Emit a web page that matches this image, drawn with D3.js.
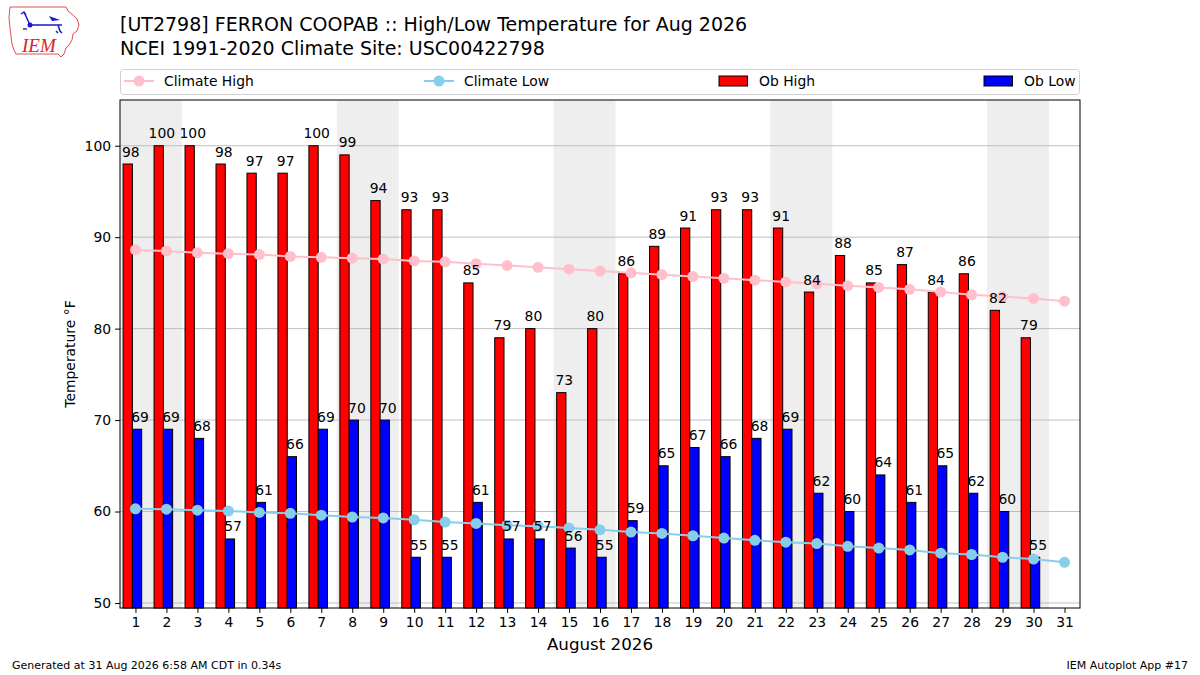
<!DOCTYPE html>
<html>
<head>
<meta charset="utf-8">
<script src="https://cdn.jsdelivr.net/npm/d3@7"></script>
<style>
  body { margin: 0; background: #fff; }
  svg { font-family: "DejaVu Sans", sans-serif; }
</style>
</head>
<body>
<svg id="chart" width="1200" height="675"></svg>
<script>
const days = d3.range(1, 32);
const obDays = d3.range(1, 31);
const obHigh = [98, 100, 100, 98, 97, 97, 100, 99, 94, 93, 93, 85, 79, 80, 73,
  80, 86, 89, 91, 93, 93, 91, 84, 88, 85, 87, 84, 86, 82, 79];
const obLow = [69, 69, 68, 57, 61, 66, 69, 70, 70, 55, 55, 61, 57, 57, 56,
  55, 59, 65, 67, 66, 68, 69, 62, 60, 64, 61, 65, 62, 60, 55];
const climHigh = [88.6, 88.5, 88.3, 88.2, 88.1, 87.9, 87.8, 87.7, 87.6, 87.4,
  87.3, 87.1, 86.9, 86.7, 86.5, 86.3, 86.1, 85.9, 85.7, 85.5, 85.3, 85.1, 84.9,
  84.7, 84.5, 84.3, 84.0, 83.7, 83.5, 83.3, 83.0];
const climLow = [60.3, 60.25, 60.15, 60.05, 59.9, 59.8, 59.6, 59.4, 59.3, 59.1,
  58.85, 58.7, 58.5, 58.4, 58.2, 58.0, 57.75, 57.6, 57.35, 57.1, 56.85, 56.65,
  56.5, 56.2, 56.0, 55.8, 55.45, 55.3, 55.0, 54.8, 54.45];
const weekendStarts = [1, 8, 15, 22, 29];
const yTicks = [50, 60, 70, 80, 90, 100];

const svg = d3.select("#chart");
const margin = {left: 120, right: 120, top: 100, bottom: 67};
const width = 1200, height = 675;
const innerW = width - margin.left - margin.right;
const innerH = height - margin.top - margin.bottom;

const x = d3.scaleLinear().domain([0.5, 31.5]).range([0, innerW]);
const y = d3.scaleLinear().domain([49.45, 105]).range([innerH, 0]);
const dayW = x(2) - x(1);

const g = svg.append("g").attr("transform", `translate(${margin.left},${margin.top})`);

// weekend shading
g.selectAll(".wk").data(weekendStarts).join("rect")
  .attr("x", d => x(d - 0.5)).attr("y", 0)
  .attr("width", 2 * dayW).attr("height", innerH)
  .attr("fill", "#eeeeee");

// grid
g.selectAll(".grid").data(yTicks).join("line")
  .attr("x1", 0).attr("x2", innerW)
  .attr("y1", d => y(d)).attr("y2", d => y(d))
  .attr("stroke", "#b0b0b0").attr("stroke-width", 0.8);

// bars
g.selectAll(".hi").data(obHigh).join("rect")
  .attr("x", (d, i) => x(obDays[i] - 0.4))
  .attr("width", 0.3 * dayW)
  .attr("y", d => y(d))
  .attr("height", d => innerH - y(d))
  .attr("fill", "#ff0000").attr("stroke", "#000").attr("stroke-width", 1);

g.selectAll(".lo").data(obLow).join("rect")
  .attr("x", (d, i) => x(obDays[i] - 0.1))
  .attr("width", 0.3 * dayW)
  .attr("y", d => y(d))
  .attr("height", d => innerH - y(d))
  .attr("fill", "#0000ff").attr("stroke", "#000").attr("stroke-width", 1);

// climate lines
const line = d3.line().x((d, i) => x(days[i])).y(d => y(d));
[[climHigh, "#ffc0cb"], [climLow, "#87ceeb"]].forEach(([vals, col]) => {
  g.append("path").datum(vals).attr("d", line)
    .attr("fill", "none").attr("stroke", col).attr("stroke-width", 2);
  g.selectAll(null).data(vals).join("circle")
    .attr("cx", (d, i) => x(days[i])).attr("cy", d => y(d))
    .attr("r", 5.5).attr("fill", col);
});

// value labels
g.selectAll(".hiLab").data(obHigh).join("text")
  .attr("x", (d, i) => x(obDays[i] - 0.15)).attr("y", d => y(d) - 7.5)
  .attr("text-anchor", "middle").attr("font-size", "13.9px").attr("fill", "#000")
  .text(d => d);
g.selectAll(".loLab").data(obLow).join("text")
  .attr("x", (d, i) => x(obDays[i] + 0.15)).attr("y", d => y(d) - 7.5)
  .attr("text-anchor", "middle").attr("font-size", "13.9px").attr("fill", "#000")
  .text(d => d);

// axes
const xAxis = d3.axisBottom(x).tickValues(days).tickFormat(d3.format("d")).tickSizeOuter(0).tickSize(4.9).tickPadding(4);
const yAxis = d3.axisLeft(y).tickValues(yTicks).tickSizeOuter(0).tickSize(4.9).tickPadding(4);
g.append("g").attr("transform", `translate(0,${innerH})`).call(xAxis)
  .call(a => a.select(".domain").remove())
  .selectAll("text").attr("font-size", "13.9px").attr("font-family", "DejaVu Sans").attr("fill", "#000");
g.append("g").call(yAxis)
  .call(a => a.select(".domain").remove())
  .selectAll("text").attr("font-size", "13.9px").attr("font-family", "DejaVu Sans").attr("fill", "#000");

// frame
g.append("rect").attr("width", innerW).attr("height", innerH)
  .attr("fill", "none").attr("stroke", "#000").attr("stroke-width", 1);

// axis titles
g.append("text").attr("x", innerW / 2).attr("y", innerH + 42)
  .attr("text-anchor", "middle").attr("font-size", "16.7px").text("August 2026");
svg.append("text").attr("transform", `translate(75,${margin.top + innerH / 2}) rotate(-90)`)
  .attr("text-anchor", "middle").attr("font-size", "13.9px").text("Temperature °F");

// title
svg.append("text").attr("x", 120).attr("y", 31).attr("font-size", "19px")
  .text("[UT2798] FERRON COOPAB :: High/Low Temperature for Aug 2026");
svg.append("text").attr("x", 120).attr("y", 55).attr("font-size", "19px")
  .text("NCEI 1991-2020 Climate Site: USC00422798");

// legend
const leg = svg.append("g");
leg.append("rect").attr("x", 120.5).attr("y", 69.5).attr("width", 959).attr("height", 25)
  .attr("rx", 3).attr("fill", "#fff").attr("stroke", "#d0d0d0");
const legItems = [
  {label: "Climate High", type: "line", color: "#ffc0cb", x: 124},
  {label: "Climate Low", type: "line", color: "#87ceeb", x: 424},
  {label: "Ob High", type: "bar", color: "#ff0000", x: 719},
  {label: "Ob Low", type: "bar", color: "#0000ff", x: 984}
];
legItems.forEach(it => {
  if (it.type === "line") {
    leg.append("line").attr("x1", it.x).attr("x2", it.x + 30).attr("y1", 81).attr("y2", 81)
      .attr("stroke", it.color).attr("stroke-width", 2);
    leg.append("circle").attr("cx", it.x + 15).attr("cy", 81).attr("r", 5.5).attr("fill", it.color);
  } else {
    leg.append("rect").attr("x", it.x).attr("y", 76).attr("width", 28.5).attr("height", 10)
      .attr("fill", it.color).attr("stroke", "#000").attr("stroke-width", 1);
  }
  leg.append("text").attr("x", it.x + 40).attr("y", 86).attr("font-size", "13.9px").text(it.label);
});

// footer
svg.append("text").attr("x", 12).attr("y", 669).attr("font-size", "11px")
  .text("Generated at 31 Aug 2026 6:58 AM CDT in 0.34s");
svg.append("text").attr("x", 1188).attr("y", 669).attr("font-size", "11px")
  .attr("text-anchor", "end").text("IEM Autoplot App #17");

// logo (approximate)
const logo = svg.append("g");
logo.append("path")
  .attr("d", "M10,7 L66,7 L68,11 L73,15 L77,19 L79,25 L77,31 L73,34 L72,40 L69,45 L66,48 L64,54 L61,57 L58,54 L16,54 L14,50 L12,44 L11,36 L10,28 L9,18 Z")
  .attr("fill", "#fff").attr("stroke", "#e05050").attr("stroke-width", 1);
logo.append("path")
  .attr("d", "M30,25 L62,25 M24,12 L30,25 M21,14 L24,12 L26,15 M58,25 L60,31 L62,33 M56,31 L58,33")
  .attr("stroke", "#1a1acc").attr("stroke-width", 1.5).attr("fill", "none");
logo.append("path").attr("d", "M49,16 L60,20 L52,21 Z").attr("fill", "#1a1acc");
logo.append("circle").attr("cx", 30).attr("cy", 25).attr("r", 2.5).attr("fill", "#1a1acc");
logo.append("circle").attr("cx", 24).attr("cy", 29).attr("r", 0.9).attr("fill", "#1a1acc");
logo.append("circle").attr("cx", 26).attr("cy", 29).attr("r", 0.9).attr("fill", "#1a1acc");
logo.append("text").attr("x", 22).attr("y", 52).attr("font-family", "Liberation Serif")
  .attr("font-style", "italic").attr("font-size", "19px").attr("fill", "#dd2222").text("IEM");
</script>
</body>
</html>
